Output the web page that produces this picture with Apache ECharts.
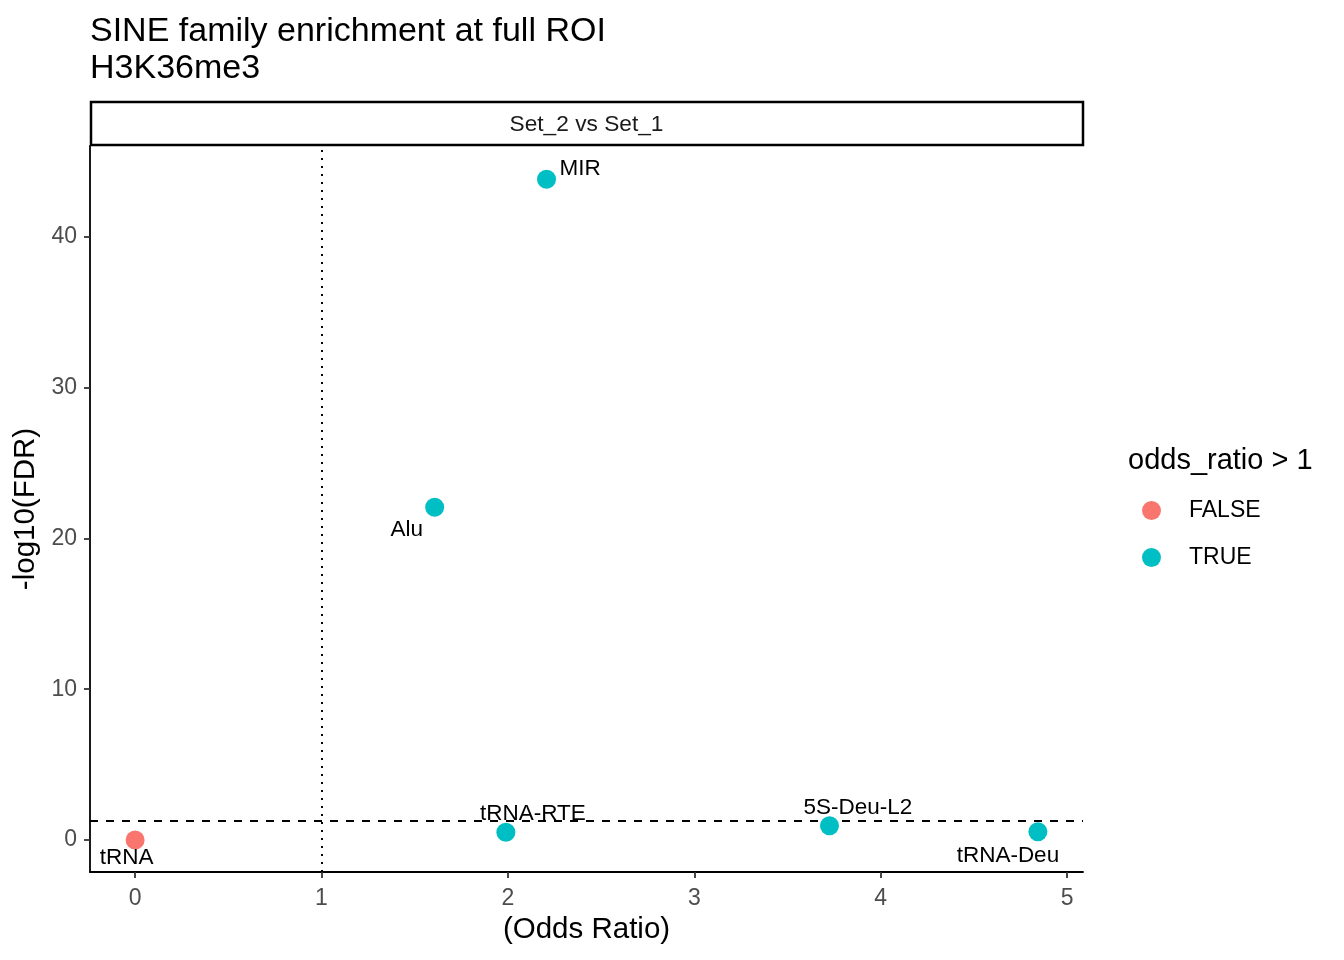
<!DOCTYPE html>
<html>
<head>
<meta charset="utf-8">
<script src="https://cdn.jsdelivr.net/npm/echarts@6/dist/echarts.min.js"></script>
<style>
html,body{margin:0;padding:0;background:#fff;}
#chart{width:1344px;height:960px;}
</style>
</head>
<body>
<div id="chart"></div>
<script>
// ---- data ----
const familyNames = ['tRNA', 'tRNA-RTE', 'Alu', 'MIR', '5S-Deu-L2', 'tRNA-Deu'];
const oddsRatio   = [0.0, 1.989, 1.607, 2.207, 3.725, 4.843];
const negLog10FDR = [0.0, 0.51, 22.06, 43.81, 0.95, 0.55];
const xTicks = [0, 1, 2, 3, 4, 5];
const yTicks = [0, 10, 20, 30, 40];
const oddsLine = 1;
const fdrLine = 1.30103;

// ---- label placement (style, ggrepel-like offsets) ----
const labelOffsets = {
  'MIR': [33.5, -11],
  'Alu': [-28, 22.5],
  'tRNA': [-8.5, 18.2],
  'tRNA-RTE': [27, -18.5],
  '5S-Deu-L2': [28.5, -17.7],
  'tRNA-Deu': [-30, 23.7]
};

const FONT = "'Liberation Sans', Arial, sans-serif";
const falseData = [], trueData = [];
familyNames.forEach((n, i) => {
  const item = {
    name: n,
    value: [oddsRatio[i], negLog10FDR[i]],
    label: { offset: labelOffsets[n] }
  };
  (oddsRatio[i] > 1 ? trueData : falseData).push(item);
});

const labelStyle = {
  show: true,
  position: 'inside',
  formatter: p => p.name,
  fontFamily: FONT,
  fontSize: 22.5,
  color: '#000',
  align: 'center',
  verticalAlign: 'middle'
};

const chart = echarts.init(document.getElementById('chart'), null, {renderer: 'canvas'});
chart.setOption({
  animation: false,
  backgroundColor: '#fff',
  textStyle: { fontFamily: FONT },
  title: [
    {
      text: 'SINE family enrichment at full ROI\nH3K36me3',
      left: 85, top: 8,
      textStyle: { fontFamily: FONT, fontSize: 34, fontWeight: 'normal', color: '#000', lineHeight: 37 }
    },
    {
      text: 'odds_ratio > 1',
      left: 1123, top: 441,
      textStyle: { fontFamily: FONT, fontSize: 29, fontWeight: 'normal', color: '#000' }
    }
  ],
  legend: {
    orient: 'vertical',
    left: 1137, top: 494,
    itemWidth: 19, itemHeight: 19, itemGap: 24,
    icon: 'circle',
    data: ['FALSE', 'TRUE'],
    textStyle: { fontFamily: FONT, fontSize: 23, color: '#000', lineHeight: 19, padding: [0, 0, 0, 23] }
  },
  grid: { left: 90, right: 261, top: 146, bottom: 88, containLabel: false },
  graphic: [
    {
      type: 'rect',
      shape: { x: 91, y: 102, width: 992, height: 43 },
      style: { fill: '#fff', stroke: '#000', lineWidth: 2.5 }
    },
    {
      type: 'text',
      x: 586.5, y: 125,
      style: { text: 'Set_2 vs Set_1', font: "22.7px 'Liberation Sans', Arial, sans-serif", fill: '#1A1A1A', align: 'center', verticalAlign: 'middle' }
    }
  ],
  xAxis: {
    type: 'value',
    min: -0.242, max: 5.085,
    name: '(Odds Ratio)',
    nameLocation: 'middle',
    nameGap: 42,
    nameTextStyle: { fontFamily: FONT, fontSize: 29.5, color: '#000' },
    axisLine: { onZero: false, lineStyle: { color: '#000', width: 1.8 } },
    axisTick: { customValues: xTicks, length: 6, lineStyle: { color: '#333', width: 1.8 } },
    axisLabel: { customValues: xTicks, margin: 15, fontFamily: FONT, fontSize: 23, color: '#4D4D4D' },
    splitLine: { show: false }
  },
  yAxis: {
    type: 'value',
    min: -2.12, max: 46.02,
    name: '-log10(FDR)',
    nameLocation: 'middle',
    nameGap: 46,
    nameRotate: 90,
    nameTextStyle: { fontFamily: FONT, fontSize: 29.5, color: '#000' },
    axisLine: { show: true, onZero: false, lineStyle: { color: '#000', width: 1.8 } },
    axisTick: { show: true, customValues: yTicks, length: 6, lineStyle: { color: '#333', width: 1.8 } },
    axisLabel: { customValues: yTicks, margin: 13, fontFamily: FONT, fontSize: 23, color: '#4D4D4D' },
    splitLine: { show: false }
  },
  series: [
    {
      name: 'FALSE',
      type: 'scatter',
      symbol: 'circle',
      symbolSize: 19,
      itemStyle: { color: '#F8766D', opacity: 1 },
      label: labelStyle,
      data: falseData,
      z: 3
    },
    {
      name: 'TRUE',
      type: 'scatter',
      symbol: 'circle',
      symbolSize: 19,
      itemStyle: { color: '#00BFC4', opacity: 1 },
      label: labelStyle,
      data: trueData,
      z: 3,
      markLine: {
        silent: true,
        symbol: ['none', 'none'],
        label: { show: false },
        z: 1,
        data: [
          { xAxis: oddsLine, lineStyle: { type: [2, 6], color: '#000', width: 2 } },
          { yAxis: fdrLine, lineStyle: { type: [8, 8], color: '#000', width: 2 } }
        ]
      }
    }
  ]
});
</script>
</body>
</html>
